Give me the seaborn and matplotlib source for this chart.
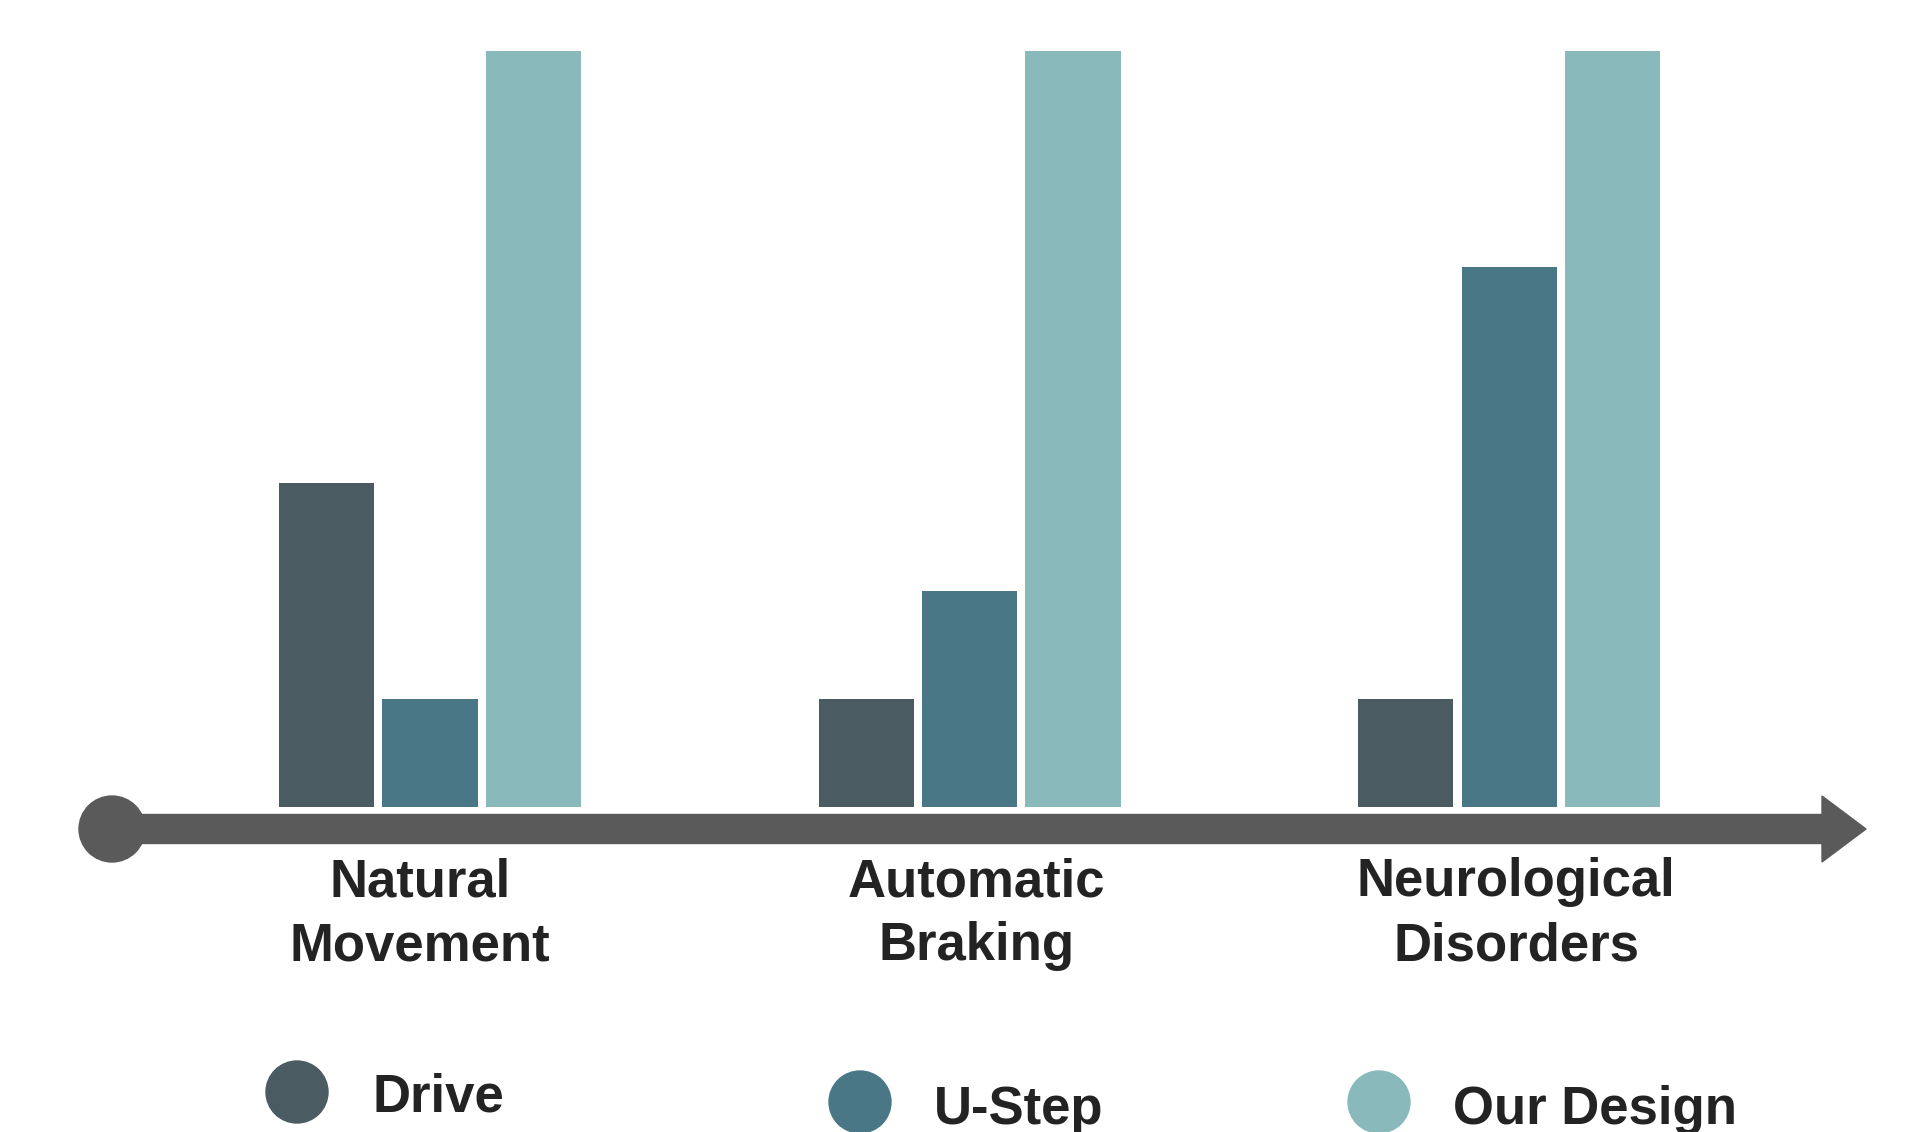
import numpy as np
import pandas as pd
import matplotlib
matplotlib.use("Agg")
import matplotlib.pyplot as plt
from matplotlib.patches import Rectangle, Polygon, Circle
import seaborn as sns

# ---- data -------------------------------------------------------------
categories = ["Natural\nMovement", "Automatic\nBraking", "Neurological\nDisorders"]
series = ["Drive", "U-Step", "Our Design"]
drive = [3, 1, 1]
u_step = [1, 2, 5]
our_design = [7, 7, 7]
colors = ["#4a5b61", "#4a7785", "#8ab9bc"]

df = pd.DataFrame({
    "category": categories * 3,
    "series": [s for s in series for _ in categories],
    "value": drive + u_step + our_design,
})

# ---- figure -----------------------------------------------------------
sns.set_theme(style="white")
plt.rcParams["font.family"] = ["Liberation Sans", "DejaVu Sans"]

W, H, DPI = 1908, 1132, 100
fig = plt.figure(figsize=(W / DPI, H / DPI), dpi=DPI)
ax = fig.add_axes([0, 0, 1, 1])

sns.barplot(data=df, x="category", y="value", hue="series",
            hue_order=series, palette=colors, width=0.575, gap=0.08,
            saturation=1, legend=False, ax=ax, linewidth=0)

ax.set_xlim(-0.797, 2.739)
ax.set_ylim(-3.009, 7.472)
ax.axis("off")

# helper: pixel position (from top-left) -> inch coords for dpi_scale_trans
px = fig.dpi_scale_trans
def P(x, y):
    return (x / DPI, (H - y) / DPI)

axis_col = "#5a5a5a"
text_col = "#232323"

# timeline arrow
ax.add_patch(Rectangle(P(112, 843), (1824 - 112) / DPI, 29 / DPI,
                       transform=px, color=axis_col, zorder=3, clip_on=False))
ax.add_patch(Polygon([P(1822, 796), P(1866, 829), P(1822, 862)],
                     closed=True, transform=px, color=axis_col, zorder=3,
                     clip_on=False))
ax.add_patch(Circle(P(112, 829), 33 / DPI, transform=px, color=axis_col,
                    zorder=3, clip_on=False))

# category labels under the timeline
label_shift = [-0.019, 0.012, 0.013]
for i, lab in enumerate(categories):
    ax.text(i + label_shift[i], -0.465, lab, ha="center", va="top",
            fontsize=38, fontweight="bold", color=text_col, linespacing=1.36)

# legend
legend_items = [
    ("Drive", (297, 1092), (373, 1112)),
    ("U-Step", (860, 1102), (934, 1124)),
    ("Our Design", (1379, 1102), (1453, 1124)),
]
for (name, (cx, cy), (tx, ty)), col in zip(legend_items, colors):
    ax.add_patch(Circle(P(cx, cy), 31 / DPI, transform=px, color=col,
                        zorder=3, clip_on=False))
    ax.text(*P(tx, ty), name, transform=px, ha="left", va="baseline",
            fontsize=38, fontweight="bold", color=text_col)

fig.savefig("out.png", dpi=DPI)
